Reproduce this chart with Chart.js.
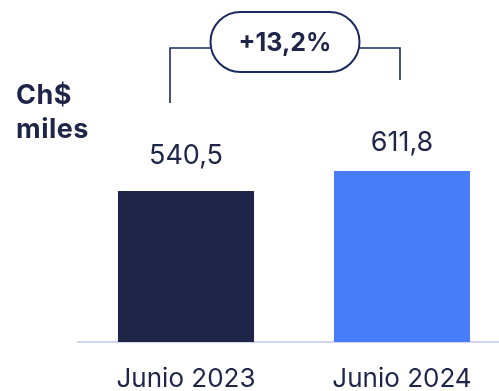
<!DOCTYPE html>
<html>
<head>
<meta charset="utf-8">
<script src="https://cdn.jsdelivr.net/npm/chart.js@4.4.1/dist/chart.umd.min.js"></script>
<style>
  html, body { margin: 0; padding: 0; background: #ffffff; overflow: hidden; }
  #wrap { position: relative; width: 510px; height: 391px; }
  #unit { position: absolute; left: 16px; top: 78px; font-family: Inter, sans-serif; font-weight: 700;
          font-size: 27px; line-height: 34px; color: #1f2449; letter-spacing: 0.5px; }
</style>
</head>
<body>
<div id="wrap">
  <canvas id="myChart"></canvas>
  <div id="unit">Ch$<br>miles</div>
</div>
<script>
let categories = ['Junio 2023', 'Junio 2024'];
let values = [540.5, 611.8];
let valueLabels = ['540,5', '611,8'];
let growthLabel = '+13,2%';
let barColors = ['#1f2449', '#477dfa'];
let textColor = '#1f2449';
let lineColor = '#1b2a5e';

// value labels above bars + growth bracket
let labelsPlugin = {
    id: 'labels',
    afterDatasetsDraw(chart) {
        let ctx = chart.ctx;
        let bars = chart.getDatasetMeta(0).data;
        let gaps = [27, 20];
        ctx.save();
        ctx.fillStyle = textColor;
        ctx.font = '27px Inter, sans-serif';
        ctx.textAlign = 'center';
        ctx.textBaseline = 'alphabetic';
        bars.forEach((bar, i) => {
            ctx.fillText(valueLabels[i], bar.x, bar.y - gaps[i]);
        });

        // bracket
        let x1 = bars[0].x - 16, x2 = bars[1].x - 2;
        let yLine = 48;
        let yEnd1 = bars[0].y - 88, yEnd2 = bars[1].y - 91;
        let pw = 149, ph = 60, pcx = (x1 + x2) / 2, pcy = 42;
        ctx.strokeStyle = lineColor;
        ctx.lineWidth = 1.6;
        ctx.beginPath();
        ctx.moveTo(x1, yEnd1);
        ctx.lineTo(x1, yLine);
        ctx.lineTo(pcx - pw / 2, yLine);
        ctx.moveTo(pcx + pw / 2, yLine);
        ctx.lineTo(x2, yLine);
        ctx.lineTo(x2, yEnd2);
        ctx.stroke();

        ctx.lineWidth = 2;
        ctx.beginPath();
        ctx.roundRect(pcx - pw / 2, pcy - ph / 2, pw, ph, ph / 2);
        ctx.fillStyle = '#ffffff';
        ctx.fill();
        ctx.stroke();

        ctx.fillStyle = textColor;
        ctx.font = 'bold 25px Inter, sans-serif';
        ctx.textBaseline = 'middle';
        ctx.fillText(growthLabel, pcx, pcy + 1);
        ctx.restore();
    }
};

let ctx = document.getElementById('myChart').getContext('2d');
let chart = new Chart(ctx, {
    type: 'bar',
    data: {
        labels: categories,
        datasets: [{
            data: values,
            backgroundColor: barColors,
            barPercentage: 0.63,
            categoryPercentage: 1
        }]
    },
    options: {
        responsive: true,
        maintainAspectRatio: false,
        animation: false,
        layout: { padding: { left: 78, right: 0, top: 0, bottom: 0 } },
        plugins: { legend: { display: false }, tooltip: { enabled: false } },
        scales: {
            y: { display: false, min: 0, max: 1224 },
            x: {
                afterFit: (scale) => { scale.height = 49; },
                grid: { display: false, drawTicks: false },
                border: { display: true, color: '#d3d6ef', width: 2 },
                ticks: {
                    color: textColor,
                    padding: 22,
                    font: { family: 'Inter, sans-serif', size: 26 }
                }
            }
        }
    },
    plugins: [labelsPlugin]
});
</script>
</body>
</html>
